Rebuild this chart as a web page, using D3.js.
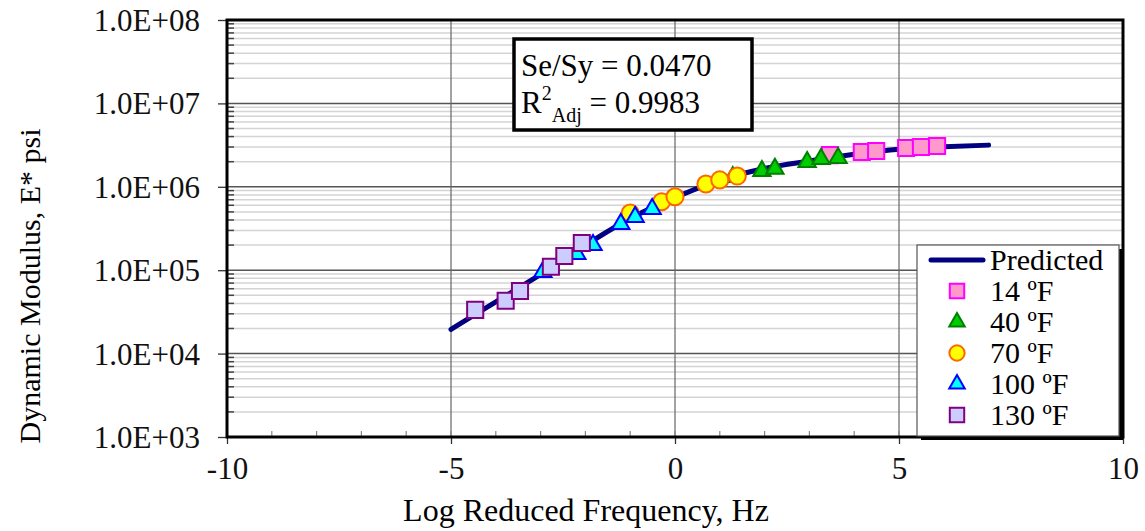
<!DOCTYPE html>
<html>
<head>
<meta charset="utf-8">
<script src="https://cdn.jsdelivr.net/npm/d3@7"></script>
<style>
  html, body { margin: 0; padding: 0; background: #fff; }
  svg { display: block; font-family: 'Liberation Serif', 'DejaVu Serif', serif; }
</style>
</head>
<body>
<svg id="chart"></svg>
<script>
// values
const xTicks = [-10, -5, 0, 5, 10];
const xTickLabels = ['-10', '-5', '0', '5', '10'];
const yTicks = [1e3, 1e4, 1e5, 1e6, 1e7, 1e8];
const yTickLabels = ['1.0E+03', '1.0E+04', '1.0E+05', '1.0E+06', '1.0E+07', '1.0E+08'];

const predFreq = [-5, -4, -3, -2, -1, 0, 1, 2, 3, 4, 5, 6, 7];
const predModulus = [19500, 41700, 89100, 199500, 417000, 741000, 1202000,
  1660000, 2040000, 2450000, 2820000, 3020000, 3160000];

const seriesNames = ['14 ºF', '40 ºF', '70 ºF', '100 ºF', '130 ºF'];
const freq14 = [3.46, 4.17, 4.49, 5.16, 5.49, 5.85];
const mod14 = [2400000, 2610000, 2690000, 2920000, 3000000, 3080000];
const freq40 = [1.29, 1.94, 2.23, 2.95, 3.26, 3.64];
const mod40 = [1310000, 1545000, 1650000, 1980000, 2150000, 2210000];
const freq70 = [-1.00, -0.30, 0.00, 0.69, 1.00, 1.39];
const mod70 = [485000, 662000, 760000, 1080000, 1210000, 1345000];
const freq100 = [-2.95, -2.19, -1.83, -1.21, -0.89, -0.51];
const mod100 = [95000, 156000, 200000, 358000, 435000, 542000];
const freq130 = [-4.46, -3.78, -3.46, -2.77, -2.47, -2.08];
const mod130 = [33400, 43000, 56400, 110000, 148000, 212000];

const statLine1 = 'Se/Sy = 0.0470';
const statR2 = '0.9983';

// styles
const markerStyles = [
  {shape: d3.symbolSquare, size: 260, fill: '#ff99cc', stroke: '#ff00ff'},
  {shape: d3.symbolTriangle, size: 130, fill: '#00cc00', stroke: '#008000'},
  {shape: d3.symbolCircle, size: 230, fill: '#ffff00', stroke: '#ff6600'},
  {shape: d3.symbolTriangle, size: 130, fill: '#00ffff', stroke: '#0000ff'},
  {shape: d3.symbolSquare, size: 260, fill: '#ccccff', stroke: '#800080'},
];

const width = 1145, height = 531;
const margin = {top: 20, right: 22, bottom: 94, left: 227};
const plotW = width - margin.left - margin.right;
const plotH = height - margin.top - margin.bottom;

const svg = d3.select('#chart')
  .attr('width', width)
  .attr('height', height);

const x = d3.scaleLinear().domain([-10, 10]).range([0, plotW]);
const y = d3.scaleLog().domain([1e3, 1e8]).range([plotH, 0]);

const chart = svg.append('g')
  .attr('transform', `translate(${margin.left}, ${margin.top})`);

// minor horizontal grid (2..9 per decade)
const minorY = [];
for (let e = 3; e < 8; e++) {
  for (let m = 2; m <= 9; m++) minorY.push(m * Math.pow(10, e));
}
chart.append('g').selectAll('line').data(minorY).enter()
  .append('line')
  .attr('x1', 0).attr('x2', plotW)
  .attr('y1', d => y(d)).attr('y2', d => y(d))
  .attr('stroke', '#d4d4d4').attr('stroke-width', 1.5);

// major grid
chart.append('g').selectAll('line').data(yTicks.slice(1, -1)).enter()
  .append('line')
  .attr('x1', 0).attr('x2', plotW)
  .attr('y1', d => y(d)).attr('y2', d => y(d))
  .attr('stroke', '#555').attr('stroke-width', 1.5);
chart.append('g').selectAll('line').data(xTicks.slice(1, -1)).enter()
  .append('line')
  .attr('x1', d => x(d)).attr('x2', d => x(d))
  .attr('y1', 0).attr('y2', plotH)
  .attr('stroke', '#666').attr('stroke-width', 1.2);

// minor ticks inside the frame
chart.append('g').selectAll('line').data(minorY).enter()
  .append('line')
  .attr('x1', 0).attr('x2', 7)
  .attr('y1', d => y(d)).attr('y2', d => y(d))
  .attr('stroke', '#444').attr('stroke-width', 1.5);
chart.append('g').selectAll('line').data(d3.range(-9, 10)).enter()
  .append('line')
  .attr('x1', d => x(d)).attr('x2', d => x(d))
  .attr('y1', plotH).attr('y2', plotH - 6)
  .attr('stroke', '#888').attr('stroke-width', 1.2);

// axes
const yAxis = chart.append('g')
  .call(d3.axisLeft(y).tickValues(yTicks)
    .tickFormat((d, i) => yTickLabels[i]).tickSize(9).tickPadding(18));
const xAxis = chart.append('g')
  .attr('transform', `translate(0, ${plotH})`)
  .call(d3.axisBottom(x).tickValues(xTicks)
    .tickFormat((d, i) => xTickLabels[i]).tickSize(7).tickPadding(13));
for (const ax of [xAxis, yAxis]) {
  ax.select('.domain').remove();
  ax.selectAll('.tick line').attr('stroke', '#333').attr('stroke-width', 1.3);
  ax.selectAll('.tick text')
    .attr('fill', '#111')
    .style('font-family', "'Liberation Serif', serif")
    .style('font-size', '31px');
}
yAxis.selectAll('.tick text').attr('dy', '0.34em');

// frame
chart.append('rect')
  .attr('x', 0).attr('y', 0).attr('width', plotW).attr('height', plotH)
  .attr('fill', 'none').attr('stroke', '#000').attr('stroke-width', 3);

// predicted curve
const line = d3.line()
  .x(i => x(predFreq[i]))
  .y(i => y(predModulus[i]))
  .curve(d3.curveMonotoneX);
chart.append('path')
  .attr('d', line(d3.range(predFreq.length)))
  .attr('fill', 'none')
  .attr('stroke', '#000080')
  .attr('stroke-width', 5)
  .attr('stroke-linecap', 'round');

// measured points
const seriesFreq = [freq14, freq40, freq70, freq100, freq130];
const seriesMod = [mod14, mod40, mod70, mod100, mod130];
seriesNames.forEach((name, s) => {
  const st = markerStyles[s];
  chart.append('g').selectAll('path').data(d3.range(seriesFreq[s].length)).enter()
    .append('path')
    .attr('transform', i => `translate(${x(seriesFreq[s][i])}, ${y(seriesMod[s][i])})`)
    .attr('d', d3.symbol().type(st.shape).size(st.size))
    .attr('fill', st.fill)
    .attr('stroke', st.stroke)
    .attr('stroke-width', 2);
});

// stats box
const stats = svg.append('g');
stats.append('rect')
  .attr('x', 514).attr('y', 39).attr('width', 238).attr('height', 91)
  .attr('fill', '#fff').attr('stroke', '#000').attr('stroke-width', 3.5);
stats.append('text')
  .attr('x', 521).attr('y', 76)
  .style('font-size', '31px')
  .text(statLine1);
const r2 = stats.append('text')
  .attr('x', 521).attr('y', 113)
  .style('font-size', '31px');
r2.append('tspan').text('R');
r2.append('tspan').attr('dy', -13).style('font-size', '20px').text('2');
r2.append('tspan').attr('dy', 22).style('font-size', '20px').text('Adj');
r2.append('tspan').attr('dy', -9).text(` = ${statR2}`);

// legend
const legend = svg.append('g');
legend.append('rect')
  .attr('x', 921).attr('y', 249).attr('width', 202).attr('height', 191)
  .attr('fill', '#000');
legend.append('rect')
  .attr('x', 917).attr('y', 245).attr('width', 202).attr('height', 191)
  .attr('fill', '#fff').attr('stroke', '#555').attr('stroke-width', 1.2);
const rowY = i => 260 + i * 31;
legend.append('line')
  .attr('x1', 931).attr('x2', 983).attr('y1', rowY(0)).attr('y2', rowY(0))
  .attr('stroke', '#000080').attr('stroke-width', 5).attr('stroke-linecap', 'round');
legend.append('text')
  .attr('x', 990).attr('y', rowY(0)).attr('dy', '0.33em')
  .style('font-size', '30px').text('Predicted');
seriesNames.forEach((name, s) => {
  const st = markerStyles[s];
  legend.append('path')
    .attr('transform', `translate(957, ${rowY(s + 1)})`)
    .attr('d', d3.symbol().type(st.shape).size(st.size * 0.8))
    .attr('fill', st.fill).attr('stroke', st.stroke).attr('stroke-width', 2);
  legend.append('text')
    .attr('x', 990).attr('y', rowY(s + 1)).attr('dy', '0.33em')
    .style('font-size', '30px').text(name);
});

// axis titles
svg.append('text')
  .attr('x', 586).attr('y', 521)
  .attr('text-anchor', 'middle')
  .style('font-size', '32px')
  .text('Log Reduced Frequency, Hz');
svg.append('text')
  .attr('transform', 'translate(40, 286) rotate(-90)')
  .attr('text-anchor', 'middle')
  .style('font-size', '30px')
  .text('Dynamic Modulus, E* psi');
</script>
</body>
</html>
